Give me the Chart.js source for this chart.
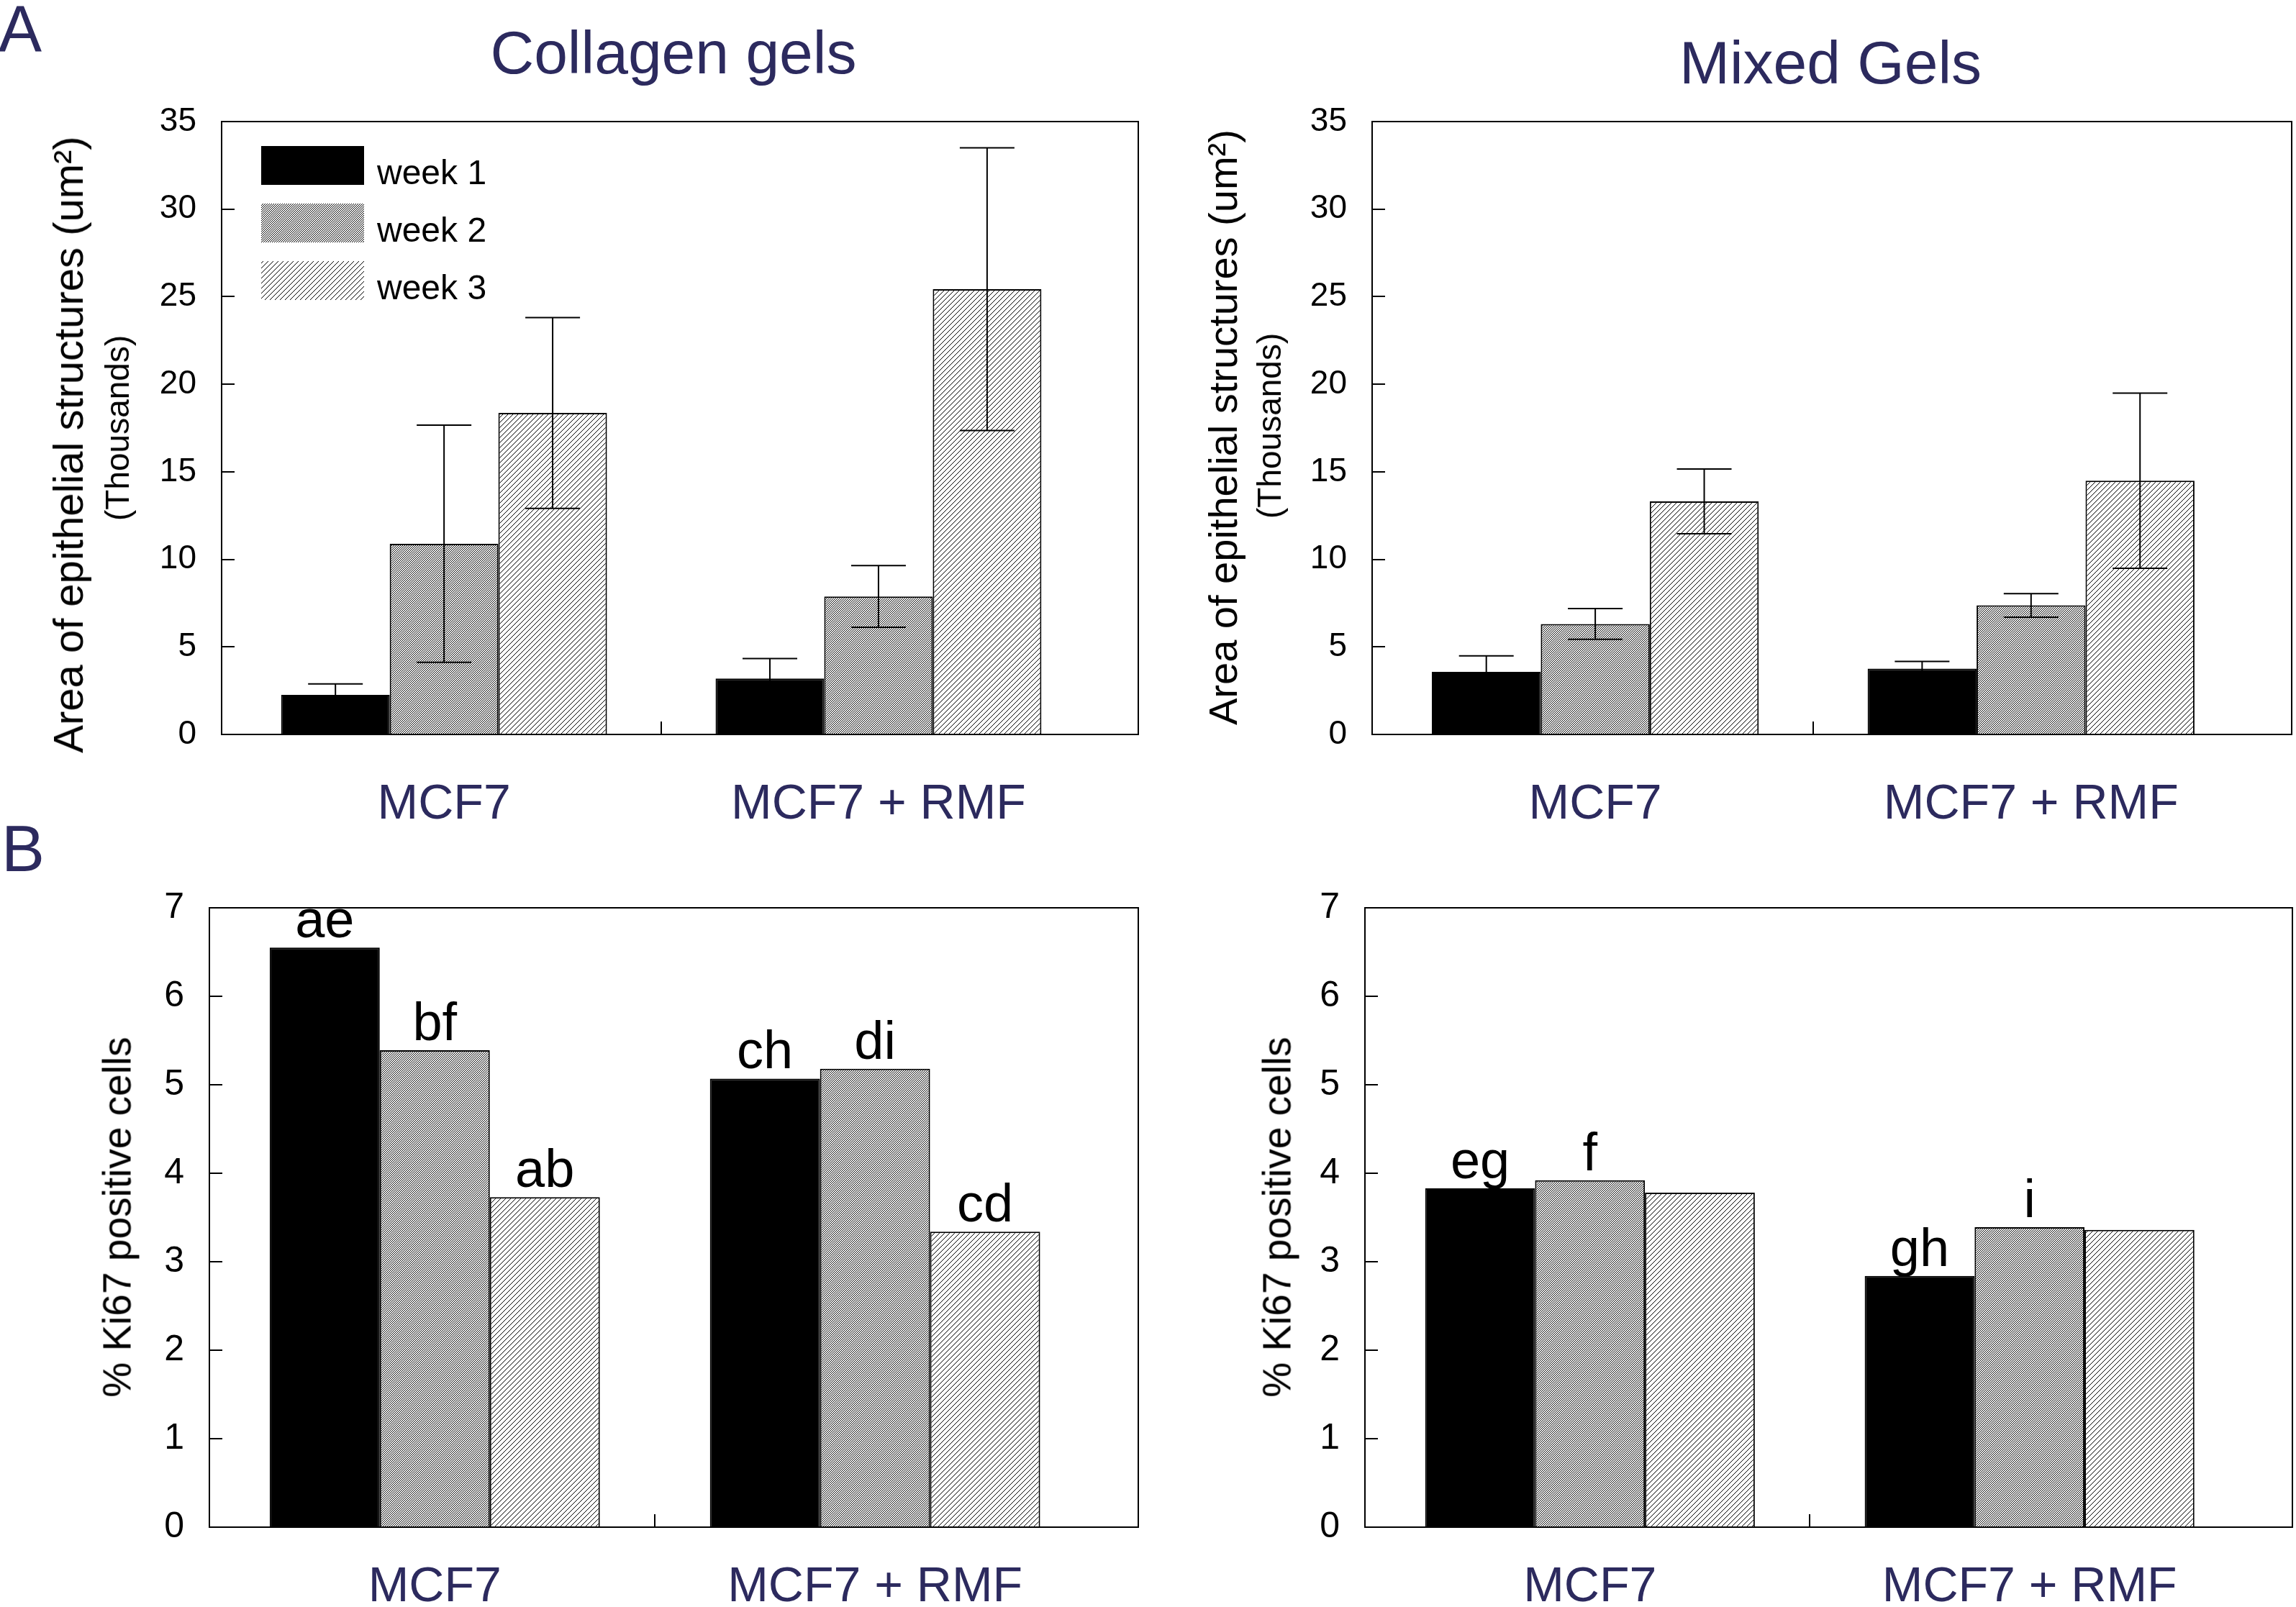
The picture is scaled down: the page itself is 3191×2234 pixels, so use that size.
<!DOCTYPE html>
<html>
<head>
<meta charset="utf-8">
<script src="https://cdn.jsdelivr.net/npm/chart.js@4.4.1/dist/chart.umd.min.js"></script>
<style>
  body { margin: 0; background: #fff; width: 3191px; height: 2234px; overflow: hidden; position: relative;
         font-family: "Liberation Sans", Arial, sans-serif; }
  canvas { position: absolute; }
  .t { position: absolute; white-space: nowrap; line-height: 1; }
  .navy { color: #2c2a5e; }
  .c { width: 1000px; text-align: center; }
  .rot { transform: translate(-50%, -50%) rotate(-90deg); color: #000; }
</style>
</head>
<body>
<canvas id="aLeft" width="1600" height="1150" style="left:0;top:0"></canvas>
<canvas id="aRight" width="1591" height="1150" style="left:1600px;top:0"></canvas>
<canvas id="bLeft" width="1600" height="1084" style="left:0;top:1150px"></canvas>
<canvas id="bRight" width="1591" height="1084" style="left:1600px;top:1150px"></canvas>

<div class="t navy" style="left:-2px;top:-5px;font-size:90px">A</div>
<div class="t navy" style="left:2px;top:1135px;font-size:90px">B</div>
<div class="t navy c" style="left:436px;top:31px;font-size:84px">Collagen gels</div>
<div class="t navy c" style="left:2044px;top:45px;font-size:84px">Mixed Gels</div>

<div class="t rot" style="left:95px;top:618px;font-size:58px">Area of epithelial structures (um²)</div>
<div class="t rot" style="left:163px;top:595px;font-size:46px">(Thousands)</div>
<div class="t rot" style="left:1700px;top:594px;font-size:56px">Area of epithelial structures (um²)</div>
<div class="t rot" style="left:1764px;top:592px;font-size:46px">(Thousands)</div>
<div class="t rot" style="left:163px;top:1692px;font-size:55px">% Ki67 positive cells</div>
<div class="t rot" style="left:1775px;top:1692px;font-size:55px">% Ki67 positive cells</div>

<script>
const categories = ['MCF7', 'MCF7 + RMF'];
const weeks = ['week 1', 'week 2', 'week 3'];
const areaTicks = [0, 5, 10, 15, 20, 25, 30, 35];
const kiTicks = [0, 1, 2, 3, 4, 5, 6, 7];

// A: area of epithelial structures (thousands um2), collagen gels
const collagenW1 = [2.26, 3.19];
const collagenW2 = [10.89, 7.88];
const collagenW3 = [18.36, 25.43];
const collagenW1Err = [0.63, 1.14];
const collagenW2Err = [6.77, 1.76];
const collagenW3Err = [5.45, 8.07];

// A: mixed gels
const mixedW1 = [3.57, 3.76];
const mixedW2 = [6.31, 7.37];
const mixedW3 = [13.31, 14.49];
const mixedW1Err = [0.92, 0.41];
const mixedW2Err = [0.88, 0.67];
const mixedW3Err = [1.85, 5.0];

// B: % Ki67 positive cells
const kiCollagenW1 = [6.55, 5.07];
const kiCollagenW2 = [5.39, 5.18];
const kiCollagenW3 = [3.73, 3.34];
const kiMixedW1 = [3.83, 2.84];
const kiMixedW2 = [3.92, 3.39];
const kiMixedW3 = [3.78, 3.36];

// significance letters
const kiCollagenL1 = ['ae', 'ch'];
const kiCollagenL2 = ['bf', 'di'];
const kiCollagenL3 = ['ab', 'cd'];
const kiMixedL1 = ['eg', 'gh'];
const kiMixedL2 = ['f', 'i'];
const kiMixedL3 = ['', ''];

const FONT = '"Liberation Sans", Arial, sans-serif';
const NAVY = '#2c2a5e';
const xMin = -0.512, xMax = 1.598;

// diagonal "/" hatch, one pixel lines
function hatch(ctx, period) {
  const tile = document.createElement('canvas');
  tile.width = tile.height = period;
  const g = tile.getContext('2d');
  const img = g.createImageData(period, period);
  for (let y = 0; y < period; y++) {
    for (let x = 0; x < period; x++) {
      const k = (y * period + x) * 4;
      const v = (x + y) % period === 0 ? 0 : 255;
      img.data[k] = img.data[k + 1] = img.data[k + 2] = v;
      img.data[k + 3] = 255;
    }
  }
  g.putImageData(img, 0, 0);
  return ctx.createPattern(tile, 'repeat');
}

const decor = {
  id: 'decor',
  afterDatasetsDraw(chart) {
    const cfg = chart.config.options.decor;
    const ctx = chart.ctx;
    const ca = chart.chartArea;
    const ys = chart.scales.y;
    ctx.save();
    ctx.strokeStyle = '#000';
    ctx.lineWidth = 2;
    ctx.strokeRect(ca.left, ca.top, ca.right - ca.left, ca.bottom - ca.top);

    // error bars
    if (cfg.errors) {
      cfg.errors.forEach((errs, i) => {
        const meta = chart.getDatasetMeta(i);
        meta.data.forEach((el, j) => {
          const v = cfg.series[i][j];
          const e = errs[j];
          const yt = ys.getPixelForValue(v + e);
          const yb = ys.getPixelForValue(v - e);
          ctx.beginPath();
          ctx.moveTo(el.x, yt); ctx.lineTo(el.x, yb);
          ctx.moveTo(el.x - 38, yt); ctx.lineTo(el.x + 38, yt);
          ctx.moveTo(el.x - 38, yb); ctx.lineTo(el.x + 38, yb);
          ctx.stroke();
        });
      });
    }

    // letters over bars
    if (cfg.letters) {
      ctx.fillStyle = '#000';
      ctx.font = '74px ' + FONT;
      ctx.textAlign = 'center';
      ctx.textBaseline = 'alphabetic';
      cfg.letters.forEach((ls, i) => {
        const meta = chart.getDatasetMeta(i);
        meta.data.forEach((el, j) => {
          if (ls[j]) ctx.fillText(ls[j], el.x, el.y - 14);
        });
      });
    }

    // legend inside the plot
    if (cfg.legend) {
      ctx.font = '48px ' + FONT;
      ctx.textAlign = 'left';
      ctx.textBaseline = 'alphabetic';
      chart.data.datasets.forEach((ds, i) => {
        const bx = ca.left + 55, by = ca.top + 34 + i * 80;
        ctx.fillStyle = ds.backgroundColor;
        ctx.fillRect(bx, by, 143, 54);
        ctx.fillStyle = '#000';
        ctx.fillText(ds.label, bx + 161, by + 53);
      });
    }
    ctx.restore();
  }
};

function panel(id, cfg) {
  const canvas = document.getElementById(id);
  const ctx = canvas.getContext('2d');
  const fills = ['#000', hatch(ctx, 3), hatch(ctx, 7)];
  const a = cfg.area;
  return new Chart(ctx, {
    type: 'bar',
    data: {
      datasets: cfg.series.map((vals, i) => ({
        label: weeks[i],
        data: vals.map((v, j) => ({ x: j, y: v })),
        backgroundColor: fills[i],
        borderColor: '#000',
        borderWidth: 2,
        categoryPercentage: 0.75,
        barPercentage: 1
      }))
    },
    options: {
      responsive: false,
      animation: false,
      devicePixelRatio: 1,
      decor: cfg,
      layout: { padding: { left: a.left - 100, top: a.top, right: canvas.width - a.right, bottom: 0 } },
      plugins: { legend: { display: false }, tooltip: { enabled: false }, title: { display: false } },
      scales: {
        x: {
          type: 'linear', min: xMin, max: xMax, offset: false,
          afterBuildTicks: s => { s.ticks = categories.map((c, i) => ({ value: i })); },
          afterFit: s => { s.height = canvas.height - a.bottom; },
          ticks: {
            callback: v => categories[v], color: NAVY, autoSkip: false, maxRotation: 0,
            font: { family: FONT, size: 68 }, padding: cfg.catPad
          },
          grid: {
            offset: true, drawOnChartArea: false, tickLength: -18, lineWidth: 2,
            color: c => (c.index === 1 ? '#000' : 'rgba(0,0,0,0)')
          },
          border: { display: false }
        },
        y: {
          min: 0, max: cfg.ticks[cfg.ticks.length - 1],
          afterBuildTicks: s => { s.ticks = cfg.ticks.map(v => ({ value: v })); },
          afterFit: s => { s.width = 100; },
          ticks: { color: '#000', font: { family: FONT, size: cfg.tickSize }, padding: 53 },
          grid: { drawOnChartArea: false, tickLength: -18, lineWidth: 2, color: '#000' },
          border: { display: false }
        }
      }
    },
    plugins: [decor]
  });
}

panel('aLeft', {
  area: { left: 308, top: 169, right: 1582, bottom: 1021 },
  series: [collagenW1, collagenW2, collagenW3],
  errors: [collagenW1Err, collagenW2Err, collagenW3Err],
  ticks: areaTicks, tickSize: 46, catPad: 75, legend: true
});
panel('aRight', {
  area: { left: 307, top: 169, right: 1585, bottom: 1021 },
  series: [mixedW1, mixedW2, mixedW3],
  errors: [mixedW1Err, mixedW2Err, mixedW3Err],
  ticks: areaTicks, tickSize: 46, catPad: 75
});
panel('bLeft', {
  area: { left: 291, top: 112, right: 1582, bottom: 973 },
  series: [kiCollagenW1, kiCollagenW2, kiCollagenW3],
  letters: [kiCollagenL1, kiCollagenL2, kiCollagenL3],
  ticks: kiTicks, tickSize: 50, catPad: 61
});
panel('bRight', {
  area: { left: 297, top: 112, right: 1586, bottom: 973 },
  series: [kiMixedW1, kiMixedW2, kiMixedW3],
  letters: [kiMixedL1, kiMixedL2, kiMixedL3],
  ticks: kiTicks, tickSize: 50, catPad: 61
});
</script>
</body>
</html>
